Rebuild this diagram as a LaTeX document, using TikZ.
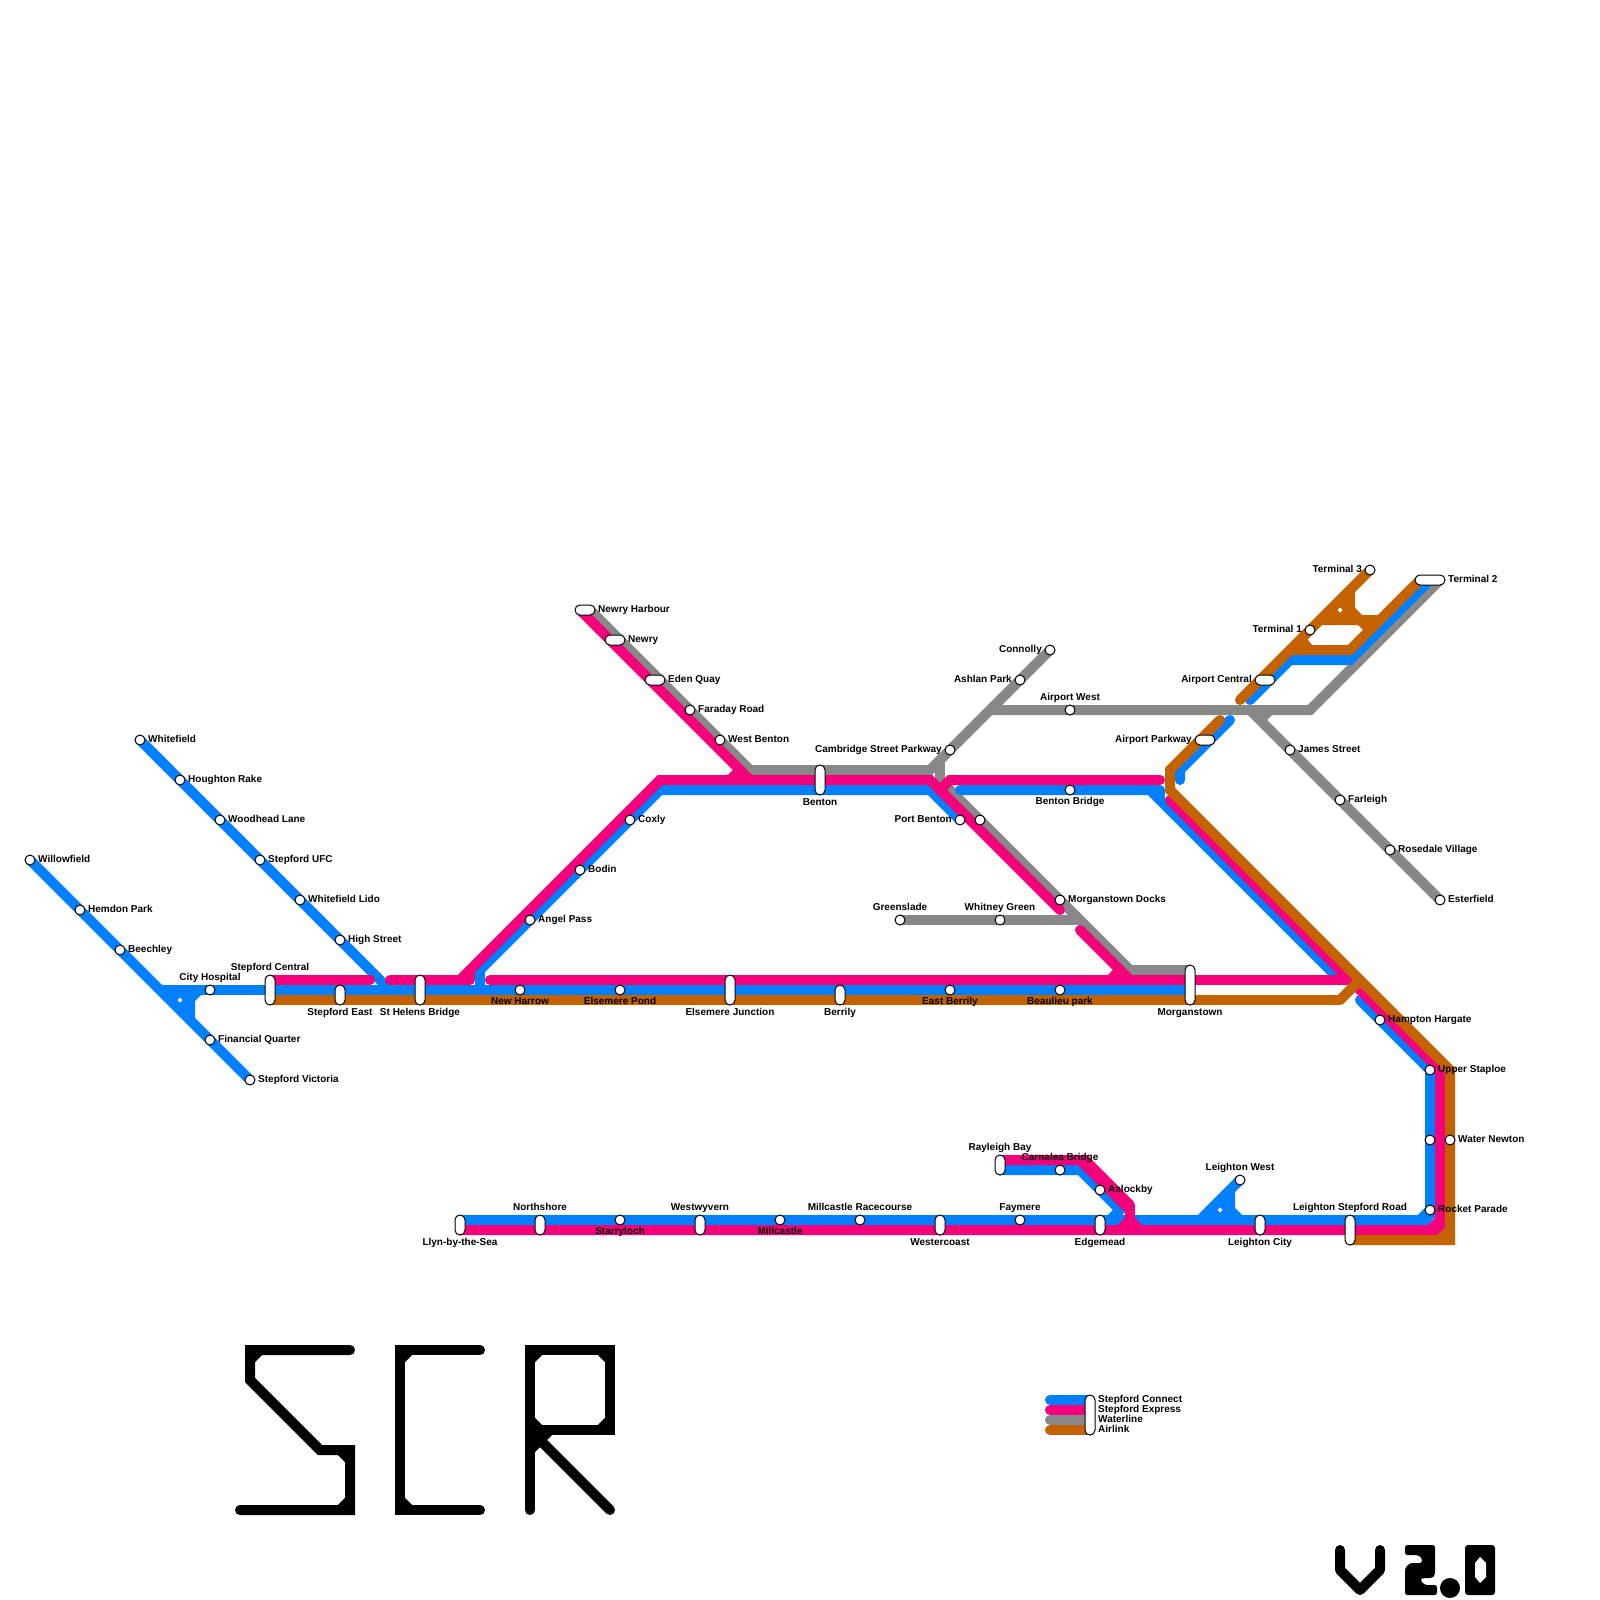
\documentclass[tikz,border=0pt]{standalone}
\usepackage{fontspec}
\setmainfont{Liberation Sans}
\usetikzlibrary{calc}
\pgfdeclarelayer{lines}
\pgfsetlayers{lines,main}
\definecolor{cBlue}{HTML}{0080FF}
\definecolor{cPink}{HTML}{F5007A}
\definecolor{cGray}{HTML}{888888}
\definecolor{cOrange}{HTML}{C46200}
\tikzset{
  route/.style={line width=10pt,line join=miter,line cap=round},
  lnBlue/.style={route,draw=cBlue},
  lnPink/.style={route,draw=cPink},
  lnGray/.style={route,draw=cGray},
  lnOrange/.style={route,draw=cOrange},
  lnBlack/.style={route,draw=black},
  flat/.style={line cap=butt},
  stn/.style={circle,draw=black,fill=white,line width=1pt,minimum size=10pt,inner sep=0pt},
  capsule/.style={draw=black,fill=white,line width=1pt,rounded corners=4.9pt,inner sep=0pt},
  lbl/.style={inner sep=0pt,font=\bfseries\fontsize{10}{12}\selectfont,text=black},
  hole/.style={fill=white,draw=none},
}
\newcommand{\StE}[4]{\node[stn] (#1) at (#2,#3) {}; \node[lbl,anchor=base west] (#1T) at ([xshift=8pt,yshift=-2.5pt]#1.center) {#4};}
\newcommand{\StW}[4]{\node[stn] (#1) at (#2,#3) {}; \node[lbl,anchor=base east] (#1T) at ([xshift=-8pt,yshift=-2.5pt]#1.center) {#4};}
\newcommand{\StN}[4]{\node[stn] (#1) at (#2,#3) {}; \node[lbl,anchor=base] (#1T) at ([yshift=10pt]#1.center) {#4};}
\newcommand{\StS}[4]{\node[stn] (#1) at (#2,#3) {}; \node[lbl,anchor=base] (#1T) at ([yshift=-14pt]#1.center) {#4};}
\newcommand{\Pill}[5]{\node[capsule,minimum width=#4pt,minimum height=#5pt] (#1) at (#2,#3) {};}
\newcommand{\Txt}[5]{\node[lbl,anchor=#2] (#1) at (#3,#4) {#5};}
\begin{document}
\begin{tikzpicture}[x=1pt,y=-1pt]
\useasboundingbox (0,0) rectangle (1600,1600);
\begin{pgfonlayer}{lines}
\fill[white] (0,0) rectangle (1600,1600);
\end{pgfonlayer}

% ---------- stations and labels ----------
\StE{willow}{30}{860}{Willowfield}
\StE{hemdon}{80}{910}{Hemdon Park}
\StE{beech}{120}{950}{Beechley}
\StE{finq}{210}{1040}{Financial Quarter}
\StE{victoria}{250}{1080}{Stepford Victoria}
\StN{cityh}{210}{990}{City Hospital}
\StE{whitef}{140}{740}{Whitefield}
\StE{hought}{180}{780}{Houghton Rake}
\StE{woodh}{220}{820}{Woodhead Lane}
\StE{ufc}{260}{860}{Stepford UFC}
\StE{lido}{300}{900}{Whitefield Lido}
\StE{high}{340}{940}{High Street}
\Pill{central}{270}{990}{10}{30}
\Txt{centralT}{base}{270}{970}{Stepford Central}
\Pill{seast}{340}{995}{10}{20}
\Txt{seastT}{base}{340}{1015}{Stepford East}
\Pill{helens}{420}{990}{10}{30}
\Txt{helensT}{base}{420}{1015}{St Helens Bridge}
\StS{harrow}{520}{990}{New Harrow}
\StS{epond}{620}{990}{Elsemere Pond}
\Pill{ejunc}{730}{990}{10}{30}
\Txt{ejuncT}{base}{730}{1015}{Elsemere Junction}
\Pill{berrily}{840}{995}{10}{20}
\Txt{berrilyT}{base}{840}{1015}{Berrily}
\StS{eberrily}{950}{990}{East Berrily}
\StS{beaul}{1060}{990}{Beaulieu park}
\Pill{morgan}{1190}{985}{10}{40}
\Txt{morganT}{base}{1190}{1015}{Morganstown}
\StE{angel}{530}{920}{Angel Pass}
\StE{bodin}{580}{870}{Bodin}
\StE{coxly}{630}{820}{Coxly}
\Pill{nharb}{585}{610}{20}{10}
\Txt{nharbT}{base west}{598}{612.5}{Newry Harbour}
\Pill{newry}{615}{640}{20}{10}
\Txt{newryT}{base west}{628}{642.5}{Newry}
\Pill{eden}{655}{680}{20}{10}
\Txt{edenT}{base west}{668}{682.5}{Eden Quay}
\StE{faraday}{690}{710}{Faraday Road}
\StE{wbenton}{720}{740}{West Benton}
\Pill{benton}{820}{780}{10}{30}
\Txt{bentonT}{base}{820}{805}{Benton}
\StW{cambs}{950}{750}{Cambridge Street Parkway}
\StW{ashlan}{1020}{680}{Ashlan Park}
\StW{connolly}{1050}{650}{Connolly}
\StN{awest}{1070}{710}{Airport West}
\StS{bbridge}{1070}{790}{Benton Bridge}
\StW{pbenton}{960}{820}{Port Benton}
\node[stn] (pbentonB) at (980,820) {};
\StE{mdocks}{1060}{900}{Morganstown Docks}
\StN{greens}{900}{920}{Greenslade}
\StN{whitney}{1000}{920}{Whitney Green}
\StW{term3}{1370}{570}{Terminal 3}
\StW{term1}{1310}{630}{Terminal 1}
\Pill{term2}{1430}{580}{30}{10}
\Txt{term2T}{base west}{1448}{582.5}{Terminal 2}
\Pill{acentral}{1265}{680}{20}{10}
\Txt{acentralT}{base east}{1252}{682.5}{Airport Central}
\Pill{aparkway}{1205}{740}{20}{10}
\Txt{aparkwayT}{base east}{1192}{742.5}{Airport Parkway}
\StE{james}{1290}{750}{James Street}
\StE{farleigh}{1340}{800}{Farleigh}
\StE{rosedale}{1390}{850}{Rosedale Village}
\StE{ester}{1440}{900}{Esterfield}
\StE{hampton}{1380}{1020}{Hampton Hargate}
\StE{staploe}{1430}{1070}{Upper Staploe}
\node[stn] (newtonB) at (1430,1140) {};
\StE{newton}{1450}{1140}{Water Newton}
\StE{rocket}{1430}{1210}{Rocket Parade}
\Pill{lroad}{1350}{1230}{10}{30}
\Txt{lroadT}{base}{1350}{1210}{Leighton Stepford Road}
\Pill{lcity}{1260}{1225}{10}{20}
\Txt{lcityT}{base}{1260}{1245}{Leighton City}
\StN{lwest}{1240}{1180}{Leighton West}
\Pill{edgem}{1100}{1225}{10}{20}
\Txt{edgemT}{base}{1100}{1245}{Edgemead}
\StE{aslock}{1100}{1190}{Aslockby}
\StN{faymere}{1020}{1220}{Faymere}
\Pill{rayleigh}{1000}{1165}{10}{20}
\Txt{rayleighT}{base}{1000}{1150}{Rayleigh Bay}
\node[stn] (carnalea) at (1060,1170) {};
\Txt{carnaleaT}{base}{1060}{1160}{Carnalea Bridge}
\Pill{wcoast}{940}{1225}{10}{20}
\Txt{wcoastT}{base}{940}{1245}{Westercoast}
\StN{racec}{860}{1220}{Millcastle Racecourse}
\StS{millc}{780}{1220}{Millcastle}
\Pill{wwyv}{700}{1225}{10}{20}
\Txt{wwyvT}{base}{700}{1210}{Westwyvern}
\StS{starry}{620}{1220}{Starryloch}
\Pill{north}{540}{1225}{10}{20}
\Txt{northT}{base}{540}{1210}{Northshore}
\Pill{llyn}{460}{1225}{10}{20}
\Txt{llynT}{base}{460}{1245}{Llyn-by-the-Sea}

% legend
\Pill{legcap}{1090}{1415}{10}{40}
\Txt{legA}{base west}{1098}{1402}{Stepford Connect}
\Txt{legB}{base west}{1098}{1412}{Stepford Express}
\Txt{legC}{base west}{1098}{1422}{Waterline}
\Txt{legD}{base west}{1098}{1432}{Airlink}

\begin{pgfonlayer}{lines}
% ---------- bends ----------
\coordinate (bA) at (160,990);
\coordinate (bB) at (390,990);
\coordinate (bC) at (480,990);
\coordinate (bD) at (480,970);
\coordinate (bE) at (660,790);
\coordinate (bF) at (930,790);
\coordinate (bG) at (960,790);
\coordinate (bH) at (1150,790);
\coordinate (bI) at (1160,790);
\coordinate (bJ) at (1160,800);
\coordinate (bK) at (1340,980);
\coordinate (bL) at (1360,1000);
\coordinate (bM) at (1430,1210);
\coordinate (bN) at (1420,1220);
\coordinate (bO) at (1110,1220);
\coordinate (bP) at (1120,1210);
\coordinate (bQ) at (1080,1170);
\coordinate (bR) at (1140,1220);
\coordinate (bS) at (1200,1220);
\coordinate (bT) at (1350,660);
\coordinate (bU) at (1290,660);
\coordinate (bV) at (1250,700);
\coordinate (bW) at (1230,720);
\coordinate (bX) at (1180,770);
\coordinate (bY) at (1180,780);
\coordinate (bZ) at (1430,580);
% ---------- Waterline ----------
\draw[lnGray] (590,610) coordinate (gA) -- (750,770) coordinate (gB) -- (930,770) coordinate (gC) -- (connolly.center);
\draw[lnGray,flat] (940,763) coordinate (gD) -- (940,785) coordinate (gE);
\draw[lnGray,flat] (945,785) coordinate (gF) -- (1130,970) coordinate (gG) -- (1190,970) coordinate (gH);
\draw[lnGray,flat] (greens.center) -- (1080,920) coordinate (gI);
\draw[lnGray,flat] (990,710) coordinate (gJ) -- (1310,710) coordinate (gK) -- (1440,580) coordinate (gL);
\draw[lnGray,flat] (1250,710) coordinate (gM) -- (ester.center);
\draw[lnGray,flat] (1260,720) coordinate (gN) -- (1270,710) coordinate (gO);
% ---------- Stepford Connect ----------
\draw[lnBlue] (willow.center) -- (victoria.center);
\draw[lnBlue,flat] (bA) -- (morgan.center |- bA);
\draw[lnBlue] (whitef.center) -- (bB);
\draw[lnBlue] (bC) -- (bD) -- (bE) -- (bF) -- (pbenton.center);
\draw[lnBlue] (bG) -- (bH) -- (bK);
\draw[lnBlue,flat,line join=round] (bH) -- (bI) -- (bJ);
\draw[lnBlue] (bL) -- (staploe.center) -- (bM) -- (bN) -- (llyn.center |- bN);
\fill[cBlue] (1435,1205) -- (1435,1217) -- (1428,1225) -- (1415,1225) -- cycle;
\draw[lnBlue] (bO) -- (bP) -- (bQ) -- (rayleigh.center |- bQ);
\draw[lnBlue] (bR) -- (bN);
\draw[lnBlue,flat] (bS) -- (lwest.center);
\draw[lnBlue] (bZ) -- (bT) -- (bU) -- (bV);
\draw[lnBlue] (bW) -- (bX) -- (bY);
% junction near City Hospital
\fill[cBlue] (162,985) -- (205,985) -- (205,995) -- (201,995) -- (195,1001) -- (195,1025) -- (190,1020) -- (165,995) -- (160,990) -- cycle;
\fill[hole] (180,997.5) -- (182.5,1000) -- (180,1002.5) -- (177.5,1000) -- cycle;
% junction near Leighton West
\fill[cBlue] (1200,1215) -- (1232,1183) -- (1235,1190) -- (1235,1208) -- (1242,1215) -- cycle;
\fill[hole] (1220,1207.5) -- (1222.5,1210) -- (1220,1212.5) -- (1217.5,1210) -- cycle;
% ---------- Stepford Express ----------
\draw[lnPink] (270,980) coordinate (pA) -- (370,980) coordinate (pB);
\draw[lnPink] (390,980) coordinate (pC) -- (470,980) coordinate (pD);
\draw[lnPink,flat] (pD) -- (470,970) coordinate (pE);
\draw[lnPink] (460,980) coordinate (pF) -- (660,780) coordinate (pG) -- (930,780) coordinate (pH) -- (1060,910) coordinate (pI);
\draw[lnPink] (580,610) coordinate (pJ) -- (750,780) coordinate (pK);
\draw[lnPink,flat] (730,780) coordinate (pL) -- (740,770) coordinate (pM);
\draw[lnPink] (940,790) coordinate (pN) -- (950,780) coordinate (pO) -- (1160,780) coordinate (pP);
\draw[lnPink] (1080,930) coordinate (pQ) -- (1130,980) coordinate (pR);
\draw[lnPink] (490,980) coordinate (pS) -- (1350,980) coordinate (pT);
\draw[lnPink,flat] (1110,980) coordinate (pU) -- (1120,970) coordinate (pV);
\draw[lnPink] (1170,800) coordinate (pW) -- (1440,1070) coordinate (pX) -- (1440,1220) coordinate (pY) -- (1430,1230) coordinate (pZ) -- (llyn.center |- pZ);
\fill[cPink] (1445,1215) -- (1445,1228) -- (1438,1235) -- (1425,1235) -- cycle;
\draw[lnPink] (1000,1160) coordinate (qA) -- (1085,1160) coordinate (qB) -- (1130,1205) coordinate (qC);
\draw[lnPink,flat] (1080,1160) coordinate (qG) -- (1130,1210) coordinate (qH);
\draw[lnPink,flat] (qC) -- (1130,1220) coordinate (qD);
\draw[lnPink,flat] (1120,1230) coordinate (qE) -- (qD) -- (1140,1230) coordinate (qF);
% ---------- Airlink ----------
\draw[lnOrange] (270,1000) coordinate (oA) -- (1340,1000) coordinate (oB);
\draw[lnOrange,flat] (oB) -- (1360,980) coordinate (oC);
\draw[lnOrange] (1220,720) coordinate (oD) -- (1170,770) coordinate (oE) -- (1170,790) coordinate (oF) -- (1450,1070) coordinate (oG) -- (1450,1240) coordinate (oH) -- (1350,1240) coordinate (oI);
\fill[cOrange] (1445.5,1227.5) -- (1445.5,1236) -- (1437,1236) -- cycle;
\draw[lnOrange] (1240,700) coordinate (oJ) -- (term3.center);
\draw[lnOrange] (1290,650) coordinate (oK) -- (1350,650) coordinate (oL) -- (1420,580) coordinate (oM);
\fill[cOrange] (1355,585) -- (1355,608) -- (1362,615) -- (1385,615) -- (1363,630) -- (1358,625) -- (1322,625) -- (1310,630) -- cycle;
\fill[cOrange] (1300,632) -- (1308,640) -- (1312,645) -- (1295,650) -- cycle;
\fill[hole] (1340,607.5) -- (1342.5,610) -- (1340,612.5) -- (1337.5,610) -- cycle;
% ---------- legend ----------
\draw[lnBlue] (1050,1400) coordinate (lA) -- (legcap.center |- lA);
\draw[lnPink] (1050,1410) coordinate (lB) -- (legcap.center |- lB);
\draw[lnGray] (1050,1420) coordinate (lC) -- (legcap.center |- lC);
\draw[lnOrange] (1050,1430) coordinate (lD) -- (legcap.center |- lD);
% ---------- lettering SCR ----------
\draw[lnBlack] (350,1350) -- (250,1350) -- (250,1380) -- (320,1450) -- (350,1450) -- (350,1510) -- (240,1510);
\draw[lnBlack,flat] (250,1360) -- (260,1350);
\draw[lnBlack,flat] (340,1450) -- (350,1460);
\draw[lnBlack,flat] (350,1500) -- (340,1510);
\draw[lnBlack] (480,1350) -- (400,1350) -- (400,1510) -- (480,1510);
\draw[lnBlack,flat] (400,1360) -- (410,1350);
\draw[lnBlack,flat] (400,1500) -- (410,1510);
\draw[lnBlack] (530,1510) -- (530,1350) -- (610,1350) -- (610,1430) -- (530,1430);
\draw[lnBlack] (530,1430) -- (610,1510);
\draw[lnBlack,flat] (530,1360) -- (540,1350);
\draw[lnBlack,flat] (600,1350) -- (610,1360);
\draw[lnBlack,flat] (610,1420) -- (600,1430);
\draw[lnBlack,flat] (530,1420) -- (540,1430);
\draw[lnBlack,flat] (530,1450) -- (550,1430);
% ---------- lettering V2.0 ----------
\draw[lnBlack,line join=round] (1340,1550) -- (1340,1570) -- (1360,1590) -- (1380,1570) -- (1380,1550);
\fill[black,rounded corners=2.5pt] (1405,1545) -- (1435,1545) -- (1435,1575) -- (1432,1578) -- (1422,1578) -- (1420,1580) -- (1425,1585) -- (1437,1585) -- (1437,1595) -- (1405,1595) -- (1405,1568) -- (1410,1563) -- (1422,1563) -- (1422,1558) -- (1418,1555) -- (1405,1555) -- cycle;
\fill[black] (1450,1588) circle[radius=10];
\fill[black,rounded corners=3pt] (1465,1545) rectangle (1495,1595);
\fill[hole] (1480,1557) -- (1486,1563) -- (1486,1577) -- (1480,1583) -- (1475,1577) -- (1475,1563) -- cycle;
\end{pgfonlayer}
\end{tikzpicture}
\end{document}
